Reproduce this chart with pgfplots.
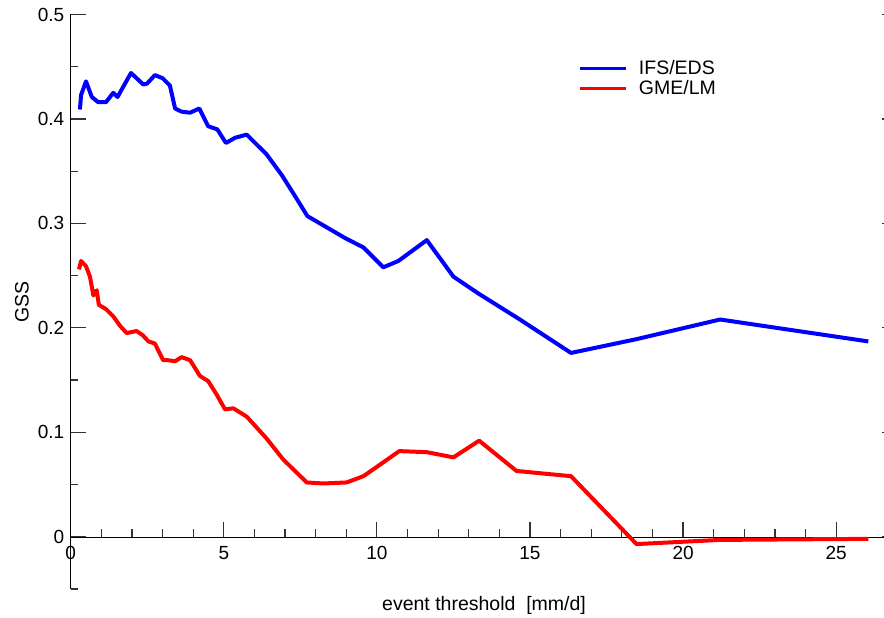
\documentclass[border=0pt]{standalone}
\usepackage{pgfplots}
\pgfplotsset{compat=1.18}
\usepackage{fontspec}
\setmainfont{Liberation Sans}
\begin{document}
\fontsize{19}{22}\selectfont
\begin{tikzpicture}
\useasboundingbox (-70.7pt,-29pt) rectangle (813.3pt,589pt);
\pgfplotsset{
  common/.style={
    anchor=south west,
    scale only axis, width=826.7pt,
    xmin=0, xmax=27,
    major tick length=15pt, minor tick length=7.7pt,
    every axis line/.style={draw=black!80, line width=1.3pt},
    every tick/.style={draw=black!80, line width=1.2pt},
    /pgf/number format/assume math mode=true,
    tick label style={font=\fontsize{19}{22}\selectfont},
  }
}
% x axis at y = 0
\begin{axis}[common,
  at={(0,52.23pt)}, height=522.27pt, ymin=0, ymax=0.5,
  axis x line*=bottom, axis y line=none,
  xtick align=inside,
  xtick={0,5,10,15,20,25}, minor x tick num=4,
  xticklabel style={yshift=-3pt},
  xlabel={event threshold\ \ [mm/d]},
  xlabel style={at={(axis description cs:0.5,-0.1315)}, anchor=center, font=\fontsize{19.5}{22}\selectfont},
]
\addplot[draw=none] coordinates {(0,0)};
\end{axis}
% data and left y axis
\begin{axis}[common,
  at={(0,0)}, height=574.5pt, ymin=-0.05, ymax=0.5,
  axis x line=none, axis y line*=left,
  ytick align=inside,
  ytick={0,0.1,0.2,0.3,0.4,0.5}, minor ytick={-0.05,0.05,0.15,0.25,0.35,0.45},
  yticklabel style={/pgf/number format/fixed},
  ylabel={GSS},
  ylabel style={at={(axis description cs:-0.059,0.5)}, anchor=center, font=\fontsize{19.5}{22}\selectfont},
  legend style={draw=none, fill=none, at={(axis description cs:0.61,0.928)}, anchor=north west,
    font=\fontsize{19.5}{22}\selectfont, row sep=-1pt, cells={anchor=west}},
  legend image code/.code={\draw[#1, line width=3.5pt] (0pt,0pt) -- (46pt,0pt); \path (55pt,0pt);},
  line join=round,
]
\addplot[blue, line width=4pt] coordinates {
(0.30,0.409) (0.34,0.423) (0.50,0.436) (0.69,0.421) (0.90,0.416) (1.15,0.416)
(1.39,0.425) (1.53,0.421) (1.70,0.430) (1.97,0.444) (2.37,0.433) (2.50,0.434)
(2.75,0.442) (3.00,0.439) (3.24,0.432) (3.41,0.410) (3.62,0.407) (3.90,0.406)
(4.20,0.410) (4.49,0.393) (4.79,0.390) (5.07,0.377) (5.37,0.382) (5.75,0.385)
(6.40,0.366) (6.90,0.346) (7.33,0.326) (7.73,0.307) (8.96,0.286) (9.56,0.277)
(10.21,0.258) (10.70,0.264) (11.63,0.284) (12.50,0.249) (13.31,0.233) (14.67,0.208)
(16.34,0.176) (18.45,0.189) (21.21,0.208) (26.05,0.187)
};
\addlegendentry{IFS/EDS}
\addplot[red, line width=4pt] coordinates {
(0.27,0.256) (0.34,0.264) (0.50,0.259) (0.63,0.249) (0.74,0.231) (0.85,0.236)
(0.92,0.222) (1.15,0.218) (1.39,0.211) (1.61,0.202) (1.83,0.195) (2.15,0.197)
(2.35,0.193) (2.54,0.187) (2.75,0.185) (3.02,0.169) (3.19,0.169) (3.41,0.168)
(3.62,0.172) (3.90,0.169) (4.22,0.154) (4.49,0.149) (4.77,0.136) (5.04,0.122)
(5.31,0.123) (5.75,0.115) (6.40,0.094) (6.94,0.074) (7.71,0.052) (8.25,0.051)
(9.01,0.052) (9.56,0.058) (10.10,0.069) (10.73,0.082) (11.63,0.081) (12.50,0.076)
(13.34,0.092) (14.56,0.063) (16.34,0.058) (18.48,-0.007) (21.21,-0.003) (26.05,-0.002)
};
\addlegendentry{GME/LM}
\end{axis}
% right ticks
\begin{axis}[common,
  at={(0,0)}, height=574.5pt, ymin=-0.05, ymax=0.5,
  axis x line=none, axis y line*=right,
  ytick align=inside,
  ytick={0,0.1,0.2,0.3,0.4,0.5}, yticklabels={},
]
\addplot[draw=none] coordinates {(0,0)};
\end{axis}
\end{tikzpicture}
\end{document}
